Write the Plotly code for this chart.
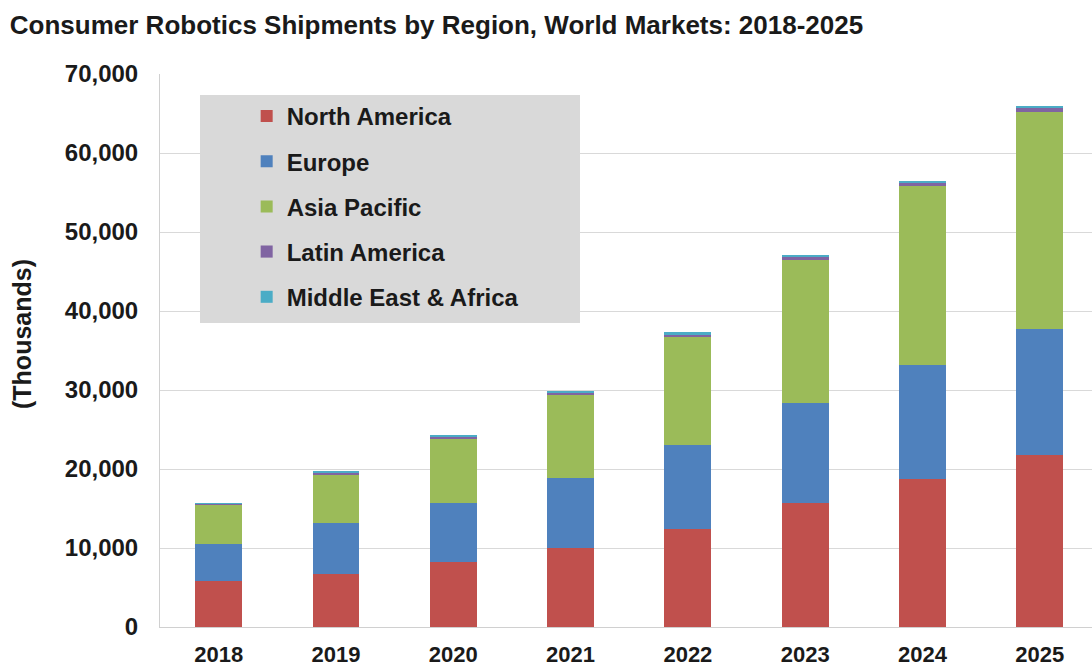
import plotly.graph_objects as go

years = ["2018", "2019", "2020", "2021", "2022", "2023", "2024", "2025"]
north_america = [5800, 6700, 8200, 10000, 12400, 15700, 18700, 21800]
europe = [4700, 6450, 7500, 8850, 10650, 12650, 14450, 15950]
asia_pacific = [4950, 6200, 8100, 10500, 13650, 18100, 22650, 27450]
latin_america = [120, 250, 280, 330, 370, 450, 450, 550]
middle_east_africa = [80, 150, 170, 200, 230, 200, 200, 220]

series = [
    ("North America", north_america, "#c0504d"),
    ("Europe", europe, "#4f81bd"),
    ("Asia Pacific", asia_pacific, "#9bbb59"),
    ("Latin America", latin_america, "#8064a2"),
    ("Middle East & Africa", middle_east_africa, "#4bacc6"),
]

fig = go.Figure()
for i, (name, vals, col) in enumerate(series):
    fig.add_trace(go.Bar(x=years, y=vals, name=f"<b>{name}</b>", marker_color=col,
                         marker_line_width=0, legendgroup=f"g{i}"))

font_family = "Liberation Sans, Arial, sans-serif"
fig.update_layout(
    width=1092, height=668,
    barmode="stack", bargap=0.6,
    paper_bgcolor="white", plot_bgcolor="white",
    margin=dict(l=160, r=0, t=74, b=41),
    title=dict(text="<b>Consumer Robotics Shipments by Region, World Markets: 2018-2025</b>",
               x=0.009, xanchor="left", y=0.962, yanchor="middle",
               font=dict(family=font_family, size=26, color="#1a1a1a")),
    font=dict(family=font_family, color="#1a1a1a"),
    xaxis=dict(range=[-0.5, 7.445], showline=True, linecolor="#d0d0d0", linewidth=1,
               tickfont=dict(size=22, family=font_family), ticks="",
               tickprefix="<b>", ticksuffix="</b>", ticklabelstandoff=8),
    yaxis=dict(range=[0, 70000], dtick=10000, tickformat=",d",
               showgrid=True, gridcolor="#d9d9d9", gridwidth=1,
               showline=True, linecolor="#d0d0d0", linewidth=1,
               tickfont=dict(size=24, family=font_family),
               tickprefix="<b>", ticksuffix="</b>", ticklabelstandoff=16),
    legend=dict(x=0.093, y=0.964, xanchor="left", yanchor="top",
                bgcolor="rgba(0,0,0,0)", traceorder="grouped",
                font=dict(size=24, family=font_family, color="#1a1a1a"),
                tracegroupgap=11, itemwidth=30),
    shapes=[dict(type="rect", xref="paper", yref="paper",
                 x0=(200 - 160) / 932, x1=(580 - 160) / 932,
                 y0=(627 - 323) / 553, y1=(627 - 95) / 553,
                 fillcolor="#d9d9d9", line_width=0, layer="above")],
    annotations=[dict(text="<b>(Thousands)</b>", textangle=-90, showarrow=False,
                      xref="paper", yref="paper",
                      x=(22 - 160) / 932, y=(627 - 334) / 553,
                      xanchor="center", yanchor="middle",
                      font=dict(size=25, family=font_family, color="#1a1a1a"))],
)

fig.write_html("out.html")
